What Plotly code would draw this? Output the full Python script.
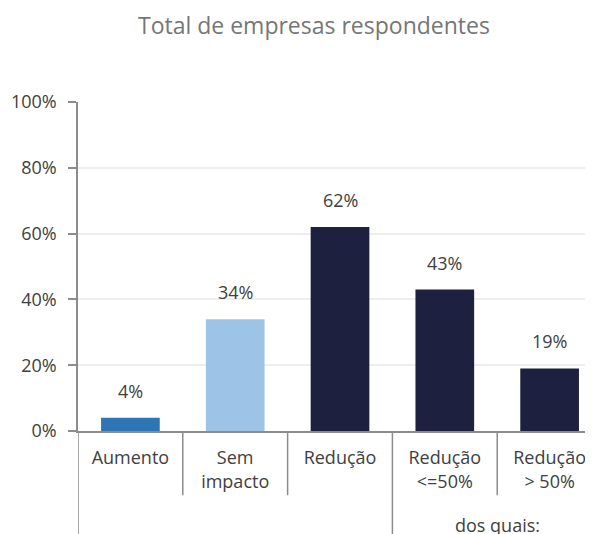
import plotly.graph_objects as go

categorias = ["Aumento", "Sem<br>impacto", "Redução", "Redução<br><=50%", "Redução<br>> 50%"]
valores = [0.04, 0.34, 0.62, 0.43, 0.19]
rotulos = ["4%", "34%", "62%", "43%", "19%"]
cores = ["#2E75B6", "#9DC3E6", "#1E2040", "#1E2040", "#1E2040"]
y_ticks = [0, 0.2, 0.4, 0.6, 0.8, 1.0]
y_tick_text = ["0%", "20%", "40%", "60%", "80%", "100%"]

fonte = "Open Sans, sans-serif"
cinza_txt = "#404040"

fig = go.Figure()
fig.add_trace(go.Bar(
    x=list(range(len(categorias))), y=valores,
    marker=dict(color=cores, line=dict(width=0)),
    width=0.56,
))

# rótulos de valor acima das barras
for i, (v, r) in enumerate(zip(valores, rotulos)):
    fig.add_annotation(x=i, y=v, text=r, showarrow=False, yanchor="bottom", yshift=13,
                       font=dict(size=18, color=cinza_txt, family=fonte))

# linhas separadoras das categorias (abaixo do eixo)
separadores = [(-0.5, -0.313), (0.5, -0.195), (1.5, -0.195), (2.5, -0.313), (3.5, -0.195)]
for xs, ybaixo in separadores:
    fig.add_shape(type="line", xref="x", yref="paper", x0=xs, x1=xs, y0=0, y1=ybaixo,
                  line=dict(color="#8c8c8c", width=1.5))

fig.add_annotation(x=3.5, y=-0.285, xref="x", yref="paper", text="dos quais:",
                   showarrow=False, yanchor="middle",
                   font=dict(size=18, color=cinza_txt, family=fonte))

fig.update_layout(
    width=585, height=526,
    margin=dict(l=70, r=0, t=94, b=103, autoexpand=False),
    paper_bgcolor="white", plot_bgcolor="white",
    showlegend=False,
    title=dict(text="Total de empresas respondentes", x=0.523, xanchor="center",
               y=0.966, yanchor="middle",
               font=dict(size=23, color="#767676", family=fonte)),
    xaxis=dict(range=[-0.5, 4.414], tickvals=list(range(len(categorias))),
               ticktext=categorias, showgrid=False, zeroline=False, automargin=False,
               showline=True, linecolor="#8c8c8c", linewidth=1.5, ticks="",
               ticklabelstandoff=10,
               tickfont=dict(size=18, color=cinza_txt, family=fonte)),
    yaxis=dict(range=[0, 1], tickvals=y_ticks, ticktext=y_tick_text, automargin=False,
               showgrid=True, gridcolor="#eeeeee", gridwidth=1.5, zeroline=False,
               showline=True, linecolor="#8c8c8c", linewidth=1.5,
               ticks="outside", ticklen=8, tickcolor="#8c8c8c", tickwidth=1.5,
               ticklabelstandoff=8,
               tickfont=dict(size=18, color=cinza_txt, family=fonte)),
)

fig.write_html("out.html")
